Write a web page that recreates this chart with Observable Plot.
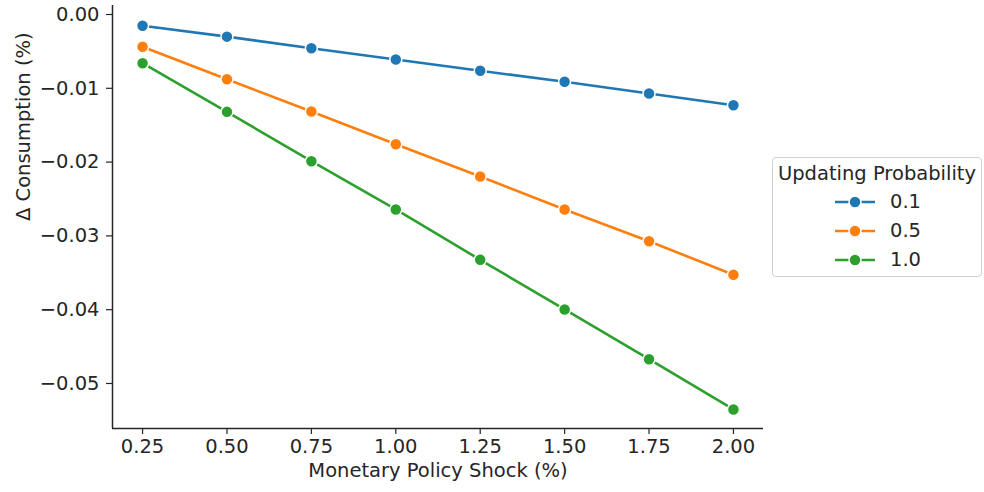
<!DOCTYPE html>
<html>
<head>
<meta charset="utf-8">
<script src="https://cdn.jsdelivr.net/npm/d3@7"></script>
<script src="https://cdn.jsdelivr.net/npm/@observablehq/plot@0.6"></script>
<style>
  body { margin: 0; background: #fff; font-family: "DejaVu Sans", sans-serif; }
  #wrap { position: relative; width: 984px; height: 492px; }
  #legend { position: absolute; left: 772px; top: 157px; width: 210px; height: 120px; box-sizing: border-box;
    border: 1px solid #d0d0d0; border-radius: 4px; background: #fff; font-size: 19.5px; color: #262626; }
  #legend .title { text-align: center; margin-top: 3px; line-height: 26px; white-space: nowrap; }
  #legend .row { display: flex; align-items: center; height: 29px; padding-left: 61px; }
  #legend svg { margin-right: 14px; }
</style>
</head>
<body>
<div id="wrap"><div id="chart"></div><div id="legend"></div></div>
<script>
const shocks = [0.25, 0.50, 0.75, 1.00, 1.25, 1.50, 1.75, 2.00];
const probs = ["0.1", "0.5", "1.0"];
const prob01 = [-0.00153, -0.00300, -0.00458, -0.00610, -0.00763, -0.00912, -0.01070, -0.01229];
const prob05 = [-0.00438, -0.00877, -0.01314, -0.01757, -0.02195, -0.02642, -0.03072, -0.03527];
const prob10 = [-0.00660, -0.01319, -0.01988, -0.02642, -0.03324, -0.03997, -0.04671, -0.05352];
const colors = ["#1f77b4", "#ff7f0e", "#2ca02c"];
const xTicks = [0.25, 0.50, 0.75, 1.00, 1.25, 1.50, 1.75, 2.00];
const yTicks = [0.00, -0.01, -0.02, -0.03, -0.04, -0.05];

const series = [prob01, prob05, prob10];
const data = [];
probs.forEach((p, i) => shocks.forEach((s, j) => data.push({shock: s, prob: p, value: series[i][j]})));

const xDom = [0.161, 2.089];
const yDom = [-0.0561, 0.00122];
const fmt = d3.format(".2f");

const chart = Plot.plot({
  width: 984,
  height: 492,
  marginLeft: 112,
  marginRight: 221,
  marginTop: 5,
  marginBottom: 64,
  style: {fontFamily: "DejaVu Sans, sans-serif", fontSize: "19.5px", color: "#262626", background: "#fff"},
  x: {domain: xDom},
  y: {domain: yDom},
  color: {domain: probs, range: colors},
  marks: [
    Plot.axisX(xTicks, {tickFormat: fmt, tickSize: 6, tickPadding: 5, fontSize: 19.5, label: null, stroke: "#262626", strokeWidth: 1.2}),
    Plot.axisY(yTicks, {tickFormat: fmt, tickSize: 6, tickPadding: 7, fontSize: 19.5, label: null, stroke: "#262626", strokeWidth: 1.2}),
    Plot.ruleX([xDom[0]], {stroke: "#262626", strokeWidth: 1.5}),
    Plot.ruleY([yDom[0]], {stroke: "#262626", strokeWidth: 1.5}),
    Plot.line(data, {x: "shock", y: "value", z: "prob", stroke: "prob", strokeWidth: 2.6}),
    Plot.dot(data, {x: "shock", y: "value", fill: "prob", stroke: "white", strokeWidth: 1.5, r: 6}),
    Plot.text(["Monetary Policy Shock (%)"], {frameAnchor: "bottom", dy: 48, fontSize: 19.5, fill: "#262626"}),
    Plot.text(["Δ Consumption (%)"], {frameAnchor: "left", dx: -89, dy: 4, rotate: -90, fontSize: 19.5, fill: "#262626"})
  ]
});
document.getElementById("chart").appendChild(chart);

const legend = document.getElementById("legend");
let html = '<div class="title">Updating Probability</div>';
probs.forEach((p, i) => {
  html += `<div class="row"><svg width="42" height="14"><line x1="1" y1="7" x2="41" y2="7" stroke="${colors[i]}" stroke-width="2.6"/><circle cx="21" cy="7" r="6" fill="${colors[i]}" stroke="white" stroke-width="1.5"/></svg><span>${p}</span></div>`;
});
legend.innerHTML = html;
</script>
</body>
</html>
